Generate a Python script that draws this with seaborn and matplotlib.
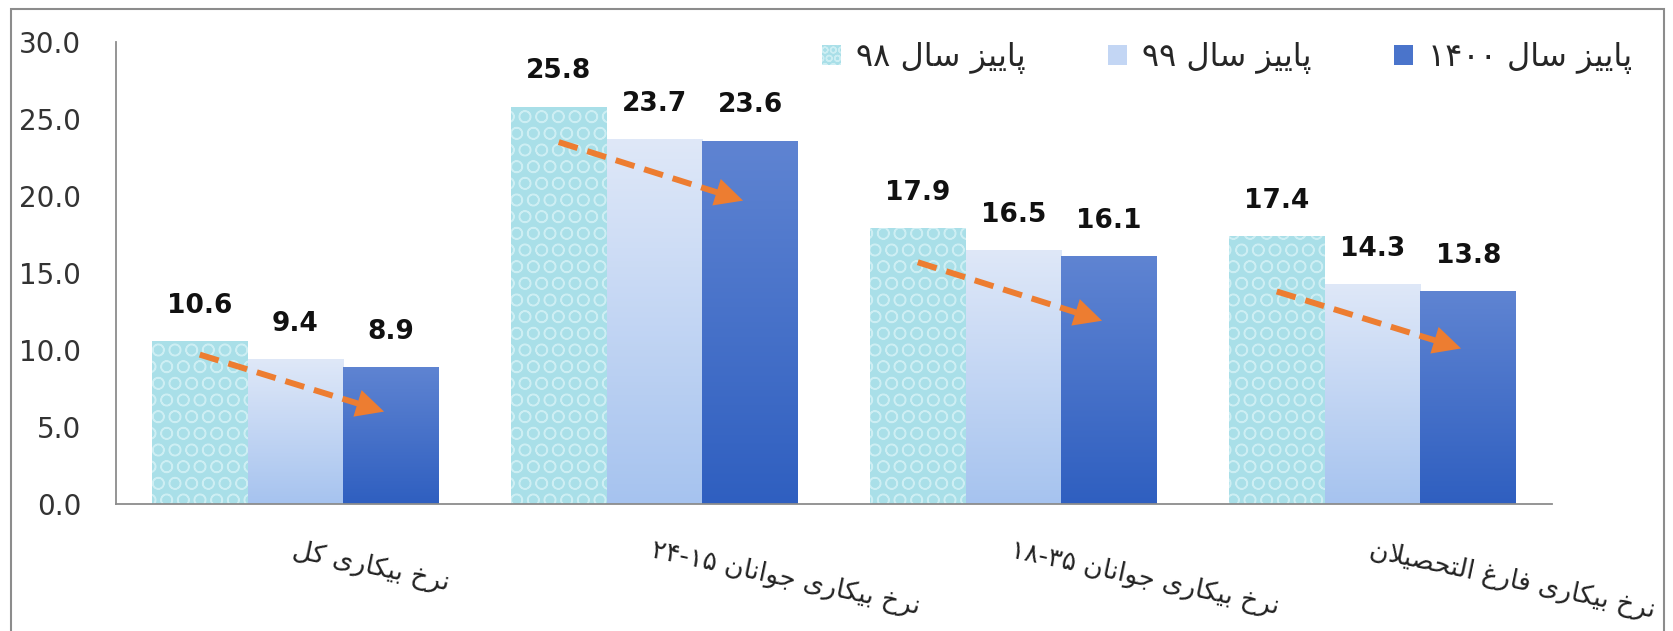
import re
import numpy as np
import pandas as pd
import matplotlib
matplotlib.use("Agg")
import matplotlib.pyplot as plt
from matplotlib.colors import LinearSegmentedColormap
from matplotlib.patches import Rectangle
import seaborn as sns

# ---------------- data ----------------
categories = ["نرخ بیکاری کل", "نرخ بیکاری جوانان ۲۴-۱۵",
              "نرخ بیکاری جوانان ۱۸-۳۵", "نرخ بیکاری فارغ التحصیلان"]
series_names = ["پاییز سال ۹۸", "پاییز سال ۹۹", "پاییز سال ۱۴۰۰"]
values_98 = [10.6, 25.8, 17.9, 17.4]
values_99 = [9.4, 23.7, 16.5, 14.3]
values_1400 = [8.9, 23.6, 16.1, 13.8]
yticks = [0, 5, 10, 15, 20, 25, 30]
# trend arrows (estimated start / end heights)
arrow_start = [9.7, 23.5, 15.7, 13.8]
arrow_end = [6.0, 19.7, 11.9, 10.1]

# ---------------- minimal Persian shaping ----------------
FORMS = {
    'ا': ('\uFE8D', '\uFE8E', None, None),
    'ب': ('\uFE8F', '\uFE90', '\uFE91', '\uFE92'),
    'پ': ('\uFB56', '\uFB57', '\uFB58', '\uFB59'),
    'ت': ('\uFE95', '\uFE96', '\uFE97', '\uFE98'),
    'ج': ('\uFE9D', '\uFE9E', '\uFE9F', '\uFEA0'),
    'ح': ('\uFEA1', '\uFEA2', '\uFEA3', '\uFEA4'),
    'خ': ('\uFEA5', '\uFEA6', '\uFEA7', '\uFEA8'),
    'ر': ('\uFEAD', '\uFEAE', None, None),
    'ز': ('\uFEAF', '\uFEB0', None, None),
    'س': ('\uFEB1', '\uFEB2', '\uFEB3', '\uFEB4'),
    'ص': ('\uFEB9', '\uFEBA', '\uFEBB', '\uFEBC'),
    'غ': ('\uFECD', '\uFECE', '\uFECF', '\uFED0'),
    'ف': ('\uFED1', '\uFED2', '\uFED3', '\uFED4'),
    'ک': ('\uFB8E', '\uFB8F', '\uFB90', '\uFB91'),
    'ل': ('\uFEDD', '\uFEDE', '\uFEDF', '\uFEE0'),
    'ن': ('\uFEE5', '\uFEE6', '\uFEE7', '\uFEE8'),
    'و': ('\uFEED', '\uFEEE', None, None),
    'ی': ('\uFBFC', '\uFBFD', '\uFBFE', '\uFBFF'),
}


def _joins_next(c):
    return c in FORMS and FORMS[c][2] is not None


def shape(text):
    res, i, n = [], 0, len(text)
    while i < n:
        ch = text[i]
        if ch not in FORMS:
            res.append(ch)
            i += 1
            continue
        jp = i > 0 and _joins_next(text[i - 1])
        if ch == 'ل' and i + 1 < n and text[i + 1] == 'ا':
            res.append('\uFEFC' if jp else '\uFEFB')
            i += 2
            continue
        jn = _joins_next(ch) and i + 1 < n and text[i + 1] in FORMS
        iso, fin, ini, med = FORMS[ch]
        res.append(med if (jp and jn) else fin if jp else ini if jn else iso)
        i += 1
    return ''.join(res)


def visual(text):
    s = shape(text)[::-1]
    return re.sub(r'[0-9\u06F0-\u06F9]+(?:-[0-9\u06F0-\u06F9]+)*',
                  lambda m: m.group(0)[::-1], s)


cat_vis = [visual(c) for c in categories]
ser_vis = [visual(s) for s in series_names]

df = pd.DataFrame({
    "category": cat_vis * 3,
    "series": [ser_vis[0]] * 4 + [ser_vis[1]] * 4 + [ser_vis[2]] * 4,
    "value": values_98 + values_99 + values_1400,
})

# ---------------- plot ----------------
sns.set_theme(style="white")
plt.rcParams['font.family'] = ['DejaVu Sans']
W, H = 1674, 631
fig = plt.figure(figsize=(W / 100, H / 100), dpi=100)
ax = fig.add_axes([116 / W, 1 - 504 / H, (1552 - 116) / W, (504 - 42) / H])

colors = ['#a9dfe8', '#c3d6f4', '#4a74cb']
sns.barplot(data=df, x="category", y="value", hue="series", palette=colors,
            order=cat_vis, hue_order=ser_vis, width=0.8, ax=ax,
            saturation=1, linewidth=0, legend=True)

# textured first series
for bar in ax.containers[0]:
    bar.set_edgecolor('#cdeef3')
    bar.set_linewidth(0)
    bar.set_hatch('O')

# gradients for series 2 and 3
grad_maps = [
    LinearSegmentedColormap.from_list('g2', ['#a6c3ef', '#dfe8f8']),
    LinearSegmentedColormap.from_list('g3', ['#2f5fc0', '#5f84d2']),
]
grad = np.linspace(0, 1, 256).reshape(-1, 1)
for cont, cmap in zip(ax.containers[1:3], grad_maps):
    for bar in cont:
        x0, y0 = bar.get_x(), bar.get_y()
        w, h = bar.get_width(), bar.get_height()
        im = ax.imshow(grad, extent=[x0, x0 + w, y0, y0 + h], origin='lower',
                       aspect='auto', cmap=cmap, zorder=bar.get_zorder() + 0.01)
        im.set_clip_path(bar)

for cont in ax.containers[:3]:
    ax.bar_label(cont, fmt='%.1f', padding=16, fontsize=19,
                 fontweight='bold', color='#111111')

# trend arrows
orange = '#ED7D31'
for i in range(len(categories)):
    b1 = ax.containers[0][i]
    b3 = ax.containers[2][i]
    xs = b1.get_x() + b1.get_width() / 2
    xe = b3.get_x() + b3.get_width() / 2 - 0.02
    ys, ye = arrow_start[i], arrow_end[i]
    f = 0.86
    ax.plot([xs, xs + f * (xe - xs)], [ys, ys + f * (ye - ys)], color=orange,
            lw=4.3, dashes=(3.3, 1.7), solid_capstyle='butt', zorder=5)
    ax.annotate('', xy=(xe, ye), xytext=(xs, ys),
                arrowprops=dict(arrowstyle='-|>,head_length=1.0,head_width=0.5',
                                color=orange, lw=0, mutation_scale=20,
                                shrinkA=0, shrinkB=0), zorder=6)

ax.set_xlim(-0.5, 3.5)
ax.set_ylim(0, 30)
ax.set_yticks(yticks)
ax.set_yticklabels([f"{v:.1f}" for v in yticks], fontsize=20, color='#333333')
ax.tick_params(axis='y', length=0, pad=25)
ax.set_xticks(range(len(cat_vis)))
ax.set_xticklabels(cat_vis, rotation=-12, ha='left', va='top',
                   rotation_mode='anchor', fontsize=19, color='#222222')
ax.tick_params(axis='x', length=0, pad=24)
ax.set_xlabel('')
ax.set_ylabel('')
for side in ['top', 'right']:
    ax.spines[side].set_visible(False)
for side in ['left', 'bottom']:
    ax.spines[side].set_color('#8c8c8c')
    ax.spines[side].set_linewidth(1.3)

leg = ax.legend(loc='center left', bbox_to_anchor=(822 / W, 1 - 58 / H),
                bbox_transform=fig.transFigure, ncol=3, frameon=False,
                fontsize=23, handlelength=0.6, handleheight=0.6,
                handletextpad=0.45, columnspacing=2.6, borderpad=0,
                borderaxespad=0)
h0 = leg.legend_handles[0]
h0.set_hatch('OO')
h0.set_edgecolor('#cdeef3')
h0.set_linewidth(0)

fig.add_artist(Rectangle((11 / W, -0.05), (1664 - 11) / W, 1.05 - 9 / H,
                         transform=fig.transFigure, fill=False,
                         edgecolor='#8c8c8c', lw=1.5))

fig.savefig("out.png", dpi=100)
